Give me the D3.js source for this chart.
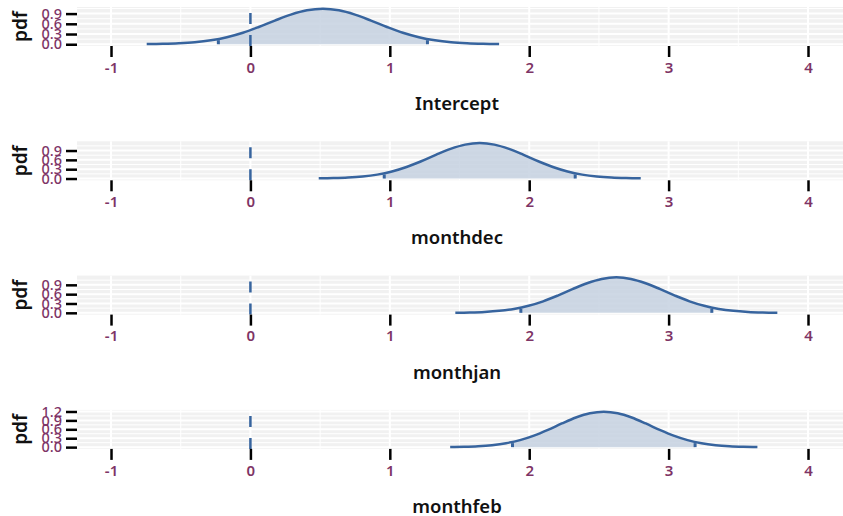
<!DOCTYPE html>
<html><head><meta charset="utf-8">
<script src="https://cdn.jsdelivr.net/npm/d3@7"></script>
<style>body{margin:0;background:#fff}svg{display:block}</style>
</head><body>
<script>
// ---- data ----
const facets = ["Intercept", "monthdec", "monthjan", "monthfeb"];
const xTicks = [-1, 0, 1, 2, 3, 4];
const yTicks1 = [0.0, 0.3, 0.6, 0.9];
const yTicks4 = [0.0, 0.3, 0.6, 0.9, 1.2];

const x_intercept = [-0.744,-0.629,-0.514,-0.399,-0.284,-0.169,-0.054,0.060,0.175,0.290,0.405,0.520,0.635,0.750,0.865,0.980,1.094,1.209,1.324,1.439,1.554,1.669,1.784];
const y_intercept = [0.004,0.011,0.027,0.058,0.115,0.206,0.338,0.507,0.695,0.870,0.996,1.042,0.996,0.870,0.695,0.507,0.338,0.206,0.115,0.058,0.027,0.011,0.004];
const x_dec = [0.490,0.595,0.700,0.805,0.910,1.015,1.120,1.225,1.330,1.435,1.540,1.645,1.750,1.855,1.960,2.065,2.170,2.275,2.380,2.485,2.590,2.695,2.800];
const y_dec = [0.005,0.013,0.030,0.064,0.126,0.226,0.370,0.555,0.760,0.952,1.090,1.140,1.090,0.952,0.760,0.555,0.370,0.226,0.126,0.064,0.030,0.013,0.005];
const x_jan = [1.470,1.575,1.680,1.785,1.890,1.995,2.100,2.205,2.310,2.415,2.520,2.625,2.730,2.835,2.940,3.045,3.150,3.255,3.360,3.465,3.570,3.675,3.780];
const y_jan = [0.005,0.013,0.030,0.064,0.126,0.226,0.370,0.555,0.760,0.952,1.090,1.140,1.090,0.952,0.760,0.555,0.370,0.226,0.126,0.064,0.030,0.013,0.005];
const x_feb = [1.433,1.533,1.633,1.733,1.834,1.934,2.034,2.134,2.234,2.335,2.435,2.535,2.635,2.735,2.836,2.936,3.036,3.136,3.236,3.337,3.437,3.537,3.637];
const y_feb = [0.005,0.013,0.031,0.067,0.132,0.237,0.388,0.581,0.797,0.998,1.142,1.194,1.142,0.998,0.797,0.581,0.388,0.237,0.132,0.067,0.031,0.013,0.005];
const ciLow = [-0.23, 0.96, 1.94, 1.88];
const ciHigh = [1.27, 2.33, 3.31, 3.19];

// ---- layout ----
const W = 843, H = 516;
const panelLeft = 77, panelRight = 843, panelH = 39, panelStep = 134.3, firstTop = 7;
const lineCol = "#37649e", fillCol = "#c6d1e1", tickLabCol = "#7e3466";
const font = "'Noto Sans', 'Open Sans', sans-serif";

const svg = d3.select("body").append("svg").attr("width", W).attr("height", H);

const x = d3.scaleLinear().domain([-1.244, 4.251]).range([panelLeft, panelRight]);

const series = [
  {xs: x_intercept, ys: y_intercept, yt: yTicks1},
  {xs: x_dec, ys: y_dec, yt: yTicks1},
  {xs: x_jan, ys: y_jan, yt: yTicks1},
  {xs: x_feb, ys: y_feb, yt: yTicks4}
];

series.forEach((s, i) => {
  const top = firstTop + i * panelStep, bottom = top + panelH;
  const pts = s.xs.map((v, k) => ({x: v, y: s.ys[k]}));
  const ymax = d3.max(s.ys);
  const y = d3.scaleLinear().domain([-0.05 * ymax, 1.05 * ymax]).range([bottom, top]);
  const g = svg.append("g");

  g.append("rect").attr("x", panelLeft).attr("y", top).attr("width", panelRight - panelLeft)
    .attr("height", panelH).attr("fill", "#f1f1f1");

  // minor grid
  const [y0, y1] = y.domain();
  const ystep = s.yt[1] - s.yt[0];
  const minorY = d3.range(-ystep/2, y1, ystep).filter(v => v > y0 && v < y1);
  g.selectAll(".hmin").data(minorY).join("line")
    .attr("x1", panelLeft).attr("x2", panelRight).attr("y1", d => y(d)).attr("y2", d => y(d))
    .attr("stroke", "#fff").attr("stroke-width", 1);
  const minorX = d3.range(-1.5, 4.6, 1).filter(v => x(v) > panelLeft && x(v) < panelRight);
  g.selectAll(".vmin").data(minorX).join("line")
    .attr("x1", d => x(d)).attr("x2", d => x(d)).attr("y1", top).attr("y2", bottom)
    .attr("stroke", "#fff").attr("stroke-width", 1);
  // major grid
  g.selectAll(".hmaj").data(s.yt).join("line")
    .attr("x1", panelLeft).attr("x2", panelRight).attr("y1", d => y(d)).attr("y2", d => y(d))
    .attr("stroke", "#fff").attr("stroke-width", 2);
  g.selectAll(".vmaj").data(xTicks).join("line")
    .attr("x1", d => x(d)).attr("x2", d => x(d)).attr("y1", top).attr("y2", bottom)
    .attr("stroke", "#fff").attr("stroke-width", 2);

  // shaded interval area
  const inner = pts.filter(p => p.x > ciLow[i] && p.x < ciHigh[i]);
  const interp = v => {
    for (let k = 0; k < pts.length - 1; k++) {
      if (v >= pts[k].x && v <= pts[k+1].x) {
        const t = (v - pts[k].x) / (pts[k+1].x - pts[k].x);
        return pts[k].y + t * (pts[k+1].y - pts[k].y);
      }
    }
    return 0;
  };
  const areaPts = [{x: ciLow[i], y: interp(ciLow[i])}, ...inner, {x: ciHigh[i], y: interp(ciHigh[i])}];
  g.append("path").datum(areaPts)
    .attr("d", d3.area().x(d => x(d.x)).y0(y(0)).y1(d => y(d.y)).curve(d3.curveCatmullRom))
    .attr("fill", fillCol).attr("opacity", 0.85);

  // zero dashed line
  g.append("line").attr("x1", x(0)).attr("x2", x(0)).attr("y1", bottom).attr("y2", top)
    .attr("stroke", lineCol).attr("stroke-width", 2.5).attr("stroke-dasharray", "11,11");

  // density curve
  g.append("path").datum(pts)
    .attr("d", d3.line().x(d => x(d.x)).y(d => y(d.y)).curve(d3.curveCatmullRom))
    .attr("fill", "none").attr("stroke", lineCol).attr("stroke-width", 2.5);

  // interval ticks
  [ciLow[i], ciHigh[i]].forEach(v => {
    g.append("line").attr("x1", x(v)).attr("x2", x(v)).attr("y1", y(0)).attr("y2", y(interp(v)) > y(0) - 4 ? y(interp(v)) : y(0) - 4)
      .attr("stroke", lineCol).attr("stroke-width", 3);
  });

  // y axis
  const ya = g.append("g").attr("transform", `translate(${panelLeft},0)`)
    .call(d3.axisLeft(y).tickValues(s.yt).tickFormat(d3.format(".1f")).tickSize(11).tickPadding(4));
  ya.select(".domain").remove();
  ya.selectAll(".tick line").attr("stroke", "#000").attr("stroke-width", 2.5);
  ya.selectAll(".tick text").attr("fill", tickLabCol).attr("font-family", font)
    .attr("font-size", 14.5).attr("font-weight", 500);

  // x axis
  const xa = g.append("g").attr("transform", `translate(0,${bottom})`)
    .call(d3.axisBottom(x).tickValues(xTicks).tickFormat(d3.format("d")).tickSize(11).tickPadding(5));
  xa.select(".domain").remove();
  xa.selectAll(".tick line").attr("stroke", "#000").attr("stroke-width", 2.5);
  xa.selectAll(".tick text").attr("fill", tickLabCol).attr("font-family", font)
    .attr("font-size", 15).attr("font-weight", 600).text(d => d < 0 ? "-" + Math.abs(d) : d);

  // y title
  g.append("text").attr("transform", `translate(27,${(top + bottom) / 2}) rotate(-90)`)
    .attr("text-anchor", "middle").attr("font-family", font).attr("font-size", 19)
    .attr("font-weight", 600).attr("fill", "#111").text("pdf");

  // facet label
  g.append("text").attr("x", (panelLeft + panelRight) / 2 - 3).attr("y", top + 103)
    .attr("text-anchor", "middle").attr("font-family", font).attr("font-size", 18.5)
    .attr("font-weight", 600).attr("fill", "#111").text(facets[i]);
});
</script>
</body></html>
